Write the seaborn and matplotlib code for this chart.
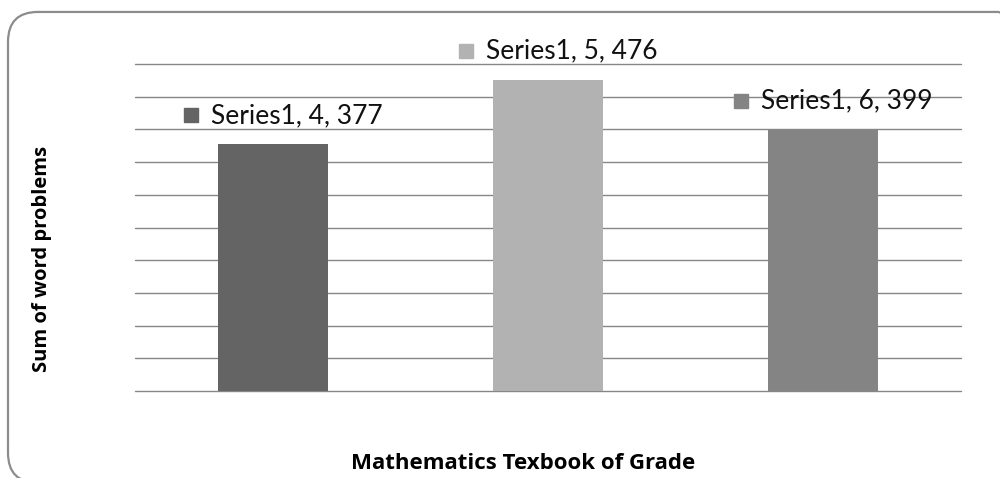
import numpy as np
import pandas as pd
import seaborn as sns
import matplotlib.pyplot as plt
import matplotlib.transforms as mtransforms
from matplotlib.patches import FancyBboxPatch

# data
grades = ['4', '5', '6']
word_problems = [377, 476, 399]
series_name = 'Series1'
bar_colors = ['#646464', '#b2b2b2', '#848484']

df = pd.DataFrame({'Grade': grades, 'Sum': word_problems})

sns.set_style('white')
plt.rcParams['font.family'] = ['Lato', 'DejaVu Sans']

fig = plt.figure(figsize=(10, 4.78), dpi=100)
ax = fig.add_axes([0.135, 0.182, 0.826, 0.684])

# rounded chart border (runs off the right and bottom edges)
border = FancyBboxPatch((0.008, -0.01), 1.02, 0.985,
                        boxstyle='round,pad=0,rounding_size=0.03',
                        transform=fig.transFigure, facecolor='none',
                        edgecolor='#8c8c8c', linewidth=1.6,
                        mutation_aspect=2.09)
fig.patches.append(border)

sns.barplot(data=df, x='Grade', y='Sum', hue='Grade', palette=bar_colors,
            width=0.4, legend=False, ax=ax, zorder=3, saturation=1,
            linewidth=0)

ax.set_xlim(-0.5, 2.5)
ax.set_ylim(0, 500)
ax.set_yticks(np.arange(0, 501, 50))
ax.yaxis.grid(True, color='#868686', linewidth=1.0)
ax.set_axisbelow(True)
ax.tick_params(left=False, bottom=False, labelleft=False, labelbottom=False)
for s in ax.spines.values():
    s.set_visible(False)
for gl in ax.get_ygridlines():
    gl.set_clip_on(False)

# data labels: legend key square + "Series1, grade, value"
for i, (g, v) in enumerate(zip(grades, word_problems)):
    tr = mtransforms.offset_copy(ax.transData, fig=fig, x=-82, y=29, units='dots')
    ax.plot(i, v, marker='s', markersize=9.5, color=bar_colors[i],
            transform=tr, clip_on=False, zorder=5)
    ax.annotate(f'{series_name}, {g}, {v}', xy=(i, v), xytext=(-62, 29),
                textcoords='offset pixels', ha='left', va='center',
                fontsize=19, color='#111111', zorder=5)

ax.set_xlabel('')
ax.set_ylabel('')
fig.text(0.523, 0.031, 'Mathematics Texbook of Grade', ha='center', va='center',
         fontsize=16, fontweight='bold', color='black', family=['Open Sans', 'DejaVu Sans'])
fig.text(0.042, 0.458, 'Sum of word problems', ha='center', va='center',
         rotation=90, fontsize=14.5, fontweight='bold', color='black',
         family=['Open Sans', 'DejaVu Sans'])

fig.savefig('out.png', dpi=100, facecolor='white')
